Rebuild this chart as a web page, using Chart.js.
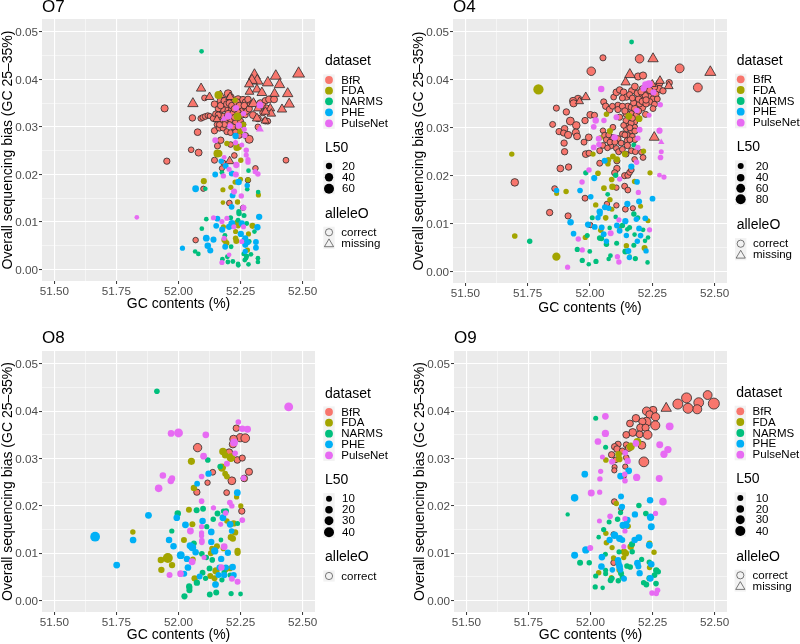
<!DOCTYPE html>
<html><head><meta charset="utf-8">
<style>html,body{margin:0;padding:0;background:#fff;overflow:hidden}canvas{position:absolute}</style>
<script src="https://cdn.jsdelivr.net/npm/chart.js@4"></script>
</head><body>
<script>
const datasetNames = ['BfR','FDA','NARMS','PHE','PulseNet'];
const alleleNames = ['correct','missing'];
const xTicks = [51.5,51.625,51.75,51.875,52,52.125,52.25,52.375,52.5];
const yTicks = [0,0.005,0.01,0.015,0.02,0.025,0.03,0.035,0.04,0.045,0.05];
const xAxisTitle = 'GC contents (%)';
const yAxisTitle = 'Overall sequencing bias (GC 25–35%)';

/* each point: [GC contents, sequencing bias, L50] */
const o7BfR = [[51.944,.0339,28],[52.056,.0319,22],[52.077,.0289,24],[52.051,.0252,15],[52.081,.0246,26],[51.953,.0228,20],[52.433,.0230,16],[52.069,.0062,14],[52.105,.0361,16],[52.09,.0318,16],[52.098,.0320,16],[52.108,.0322,16],[52.118,.0324,14],[52.126,.0323,12],[52.20,.0370,34],[52.21,.0362,30],[52.17,.0355,26],[52.18,.0347,26],[52.22,.0352,24],[52.24,.0358,30],[52.25,.0350,26],[52.26,.0357,26],[52.27,.0352,22],[52.28,.0358,22],[52.29,.0347,18],[52.23,.0345,22],[52.25,.0340,22],[52.26,.0335,26],[52.27,.0340,18],[52.21,.0340,26],[52.19,.0338,22],[52.175,.0338,26],[52.16,.0338,18],[52.145,.0348,22],[52.17,.0325,18],[52.18,.0322,22],[52.20,.0328,22],[52.22,.0330,18],[52.24,.0330,22],[52.255,.0325,18],[52.27,.0325,14],[52.16,.0315,22],[52.175,.0310,22],[52.19,.0312,22],[52.21,.0315,18],[52.23,.0310,18],[52.25,.0312,18],[52.155,.0305,16],[52.145,.0292,20],[52.165,.0298,22],[52.18,.0298,20],[52.195,.0290,18],[52.21,.0288,16],[52.23,.0290,16],[52.245,.0282,16],[52.27,.0282,18],[52.285,.0274,36],[52.17,.0272,22],[52.157,.0260,18],[52.21,.0263,15],[52.145,.0230,18],[52.225,.0240,15],[52.175,.0213,12],[52.18,.0225,12],[52.31,.0213,14],[52.30,.0325,26],[52.32,.0318,24],[52.32,.0300,16],[52.35,.0313,22],[52.36,.0312,16],[52.33,.0350,26],[52.35,.0355,22],[52.365,.0358,26],[52.385,.0358,26],[52.30,.0350,22],[52.205,.0140,15],[52.10,.0170,12],[52.28,.0188,13],[52.26,.0130,12],[52.14,.0318,18],[52.15,.0327,20],[52.16,.0325,20],[52.17,.0345,22],[52.185,.0355,24],[52.195,.0348,24],[52.205,.0350,24],[52.215,.0345,22],[52.225,.0338,22],[52.235,.0352,26],[52.245,.0345,22],[52.265,.0345,22],[52.275,.0333,18],[52.285,.0338,20],[52.24,.0320,20],[52.225,.0320,18],[52.205,.0305,18],[52.185,.0305,18],[52.22,.0300,16],[52.24,.0300,16],[52.26,.0305,16],[52.195,.0320,20],[52.165,.0305,18],[52.34,.0345,20],[52.355,.0340,18],[52.34,.0330,20]];
const o7BfRMissing = [[52.484,.0412,62],[52.306,.0408,62],[52.392,.0407,52],[52.317,.0397,56],[52.296,.0398,48],[52.36,.0393,52],[52.407,.0389,46],[52.091,.0381,36],[52.285,.0390,36],[52.286,.0374,30],[52.316,.0379,34],[52.336,.0372,40],[52.387,.0370,36],[52.44,.0370,46],[52.125,.0363,30],[52.169,.0367,30],[52.208,.0363,30],[52.058,.0349,46],[52.446,.0348,46],[52.417,.0337,36],[52.37,.0339,30],[52.374,.0328,30],[52.302,.0349,46],[52.32,.0339,30],[52.35,.0332,30],[52.316,.0318,34],[52.349,.0313,24],[52.155,.0316,24],[52.206,.0228,30]];
const o7FDA = [[52.161,.0367,36],[52.238,.0322,36],[52.228,.0356,13],[52.262,.0305,13],[52.249,.0291,18],[52.235,.0257,26],[52.242,.0258,22],[52.195,.0265,13],[52.157,.0244,36],[52.163,.0244,26],[52.251,.0230,13],[52.102,.0186,18],[52.179,.0168,11],[52.211,.0173,11],[52.228,.0184,12],[52.25,.0190,10],[52.28,.0189,10],[52.179,.0141,8],[52.238,.0142,13],[52.322,.0157,11],[52.298,.0092,18],[52.282,.0075,11],[52.181,.0090,11],[52.235,.0099,13],[52.24,.0092,13],[52.23,.0080,11],[52.185,.0062,18],[52.193,.0056,18],[52.233,.0060,18],[52.23,.0066,13],[52.278,.0041,11]];
const o7NARMS = [[52.093,.0459,8],[52.282,.0208,8],[52.175,.0204,9],[52.108,.0170,8],[52.277,.0169,8],[52.321,.0163,8],[52.112,.0106,8],[52.094,.0086,8],[52.244,.0118,13],[52.243,.0122,10],[52.264,.0114,10],[52.21,.0109,10],[52.24,.0104,10],[52.275,.0097,9],[52.306,.0080,8],[52.187,.0072,9],[52.212,.0048,9],[52.067,.0038,8],[52.08,.0033,8],[52.177,.0022,9],[52.197,.0027,9],[52.199,.0016,9],[52.219,.0017,9],[52.24,.0012,8],[52.241,.0009,8],[52.263,.0033,9],[52.267,.0020,9],[52.275,.0028,9],[52.282,.0011,8],[52.292,.0032,8],[52.32,.0024,8],[52.32,.0016,8],[52.272,.0024,8],[52.263,.0062,9],[52.285,.0059,9]];
const o7PHE = [[52.325,.0111,20],[52.318,.0089,20],[52.157,.0107,15],[52.152,.0092,16],[52.176,.0084,18],[52.204,.0090,20],[52.215,.0097,26],[52.255,.0097,20],[52.112,.0066,24],[52.141,.0063,18],[52.118,.0050,22],[52.128,.0040,18],[52.188,.0048,16],[52.251,.0075,20],[52.269,.0066,18],[52.269,.0052,18],[52.279,.0057,14],[52.312,.0058,16],[52.312,.0046,16],[52.269,.0038,12],[52.016,.0045,11],[52.069,.0170,24],[52.218,.0156,16],[52.214,.0132,16],[52.242,.0184,22],[52.277,.0177,13],[52.148,.0200,16],[52.215,.0202,18],[52.19,.0218,16],[52.172,.0228,13],[52.23,.0281,20]];
const o7PulseNet = [[51.832,.0110,8],[52.328,.0346,26],[52.232,.0340,18],[52.201,.0323,26],[52.262,.0328,12],[52.208,.0302,15],[52.243,.0303,20],[52.265,.0295,11],[52.267,.0282,12],[52.148,.0272,16],[52.23,.0267,11],[52.255,.0262,10],[52.273,.0251,13],[52.273,.0241,11],[52.28,.0231,12],[52.28,.0226,12],[52.184,.0236,9],[52.233,.0220,20],[52.204,.0211,11],[52.181,.0197,12],[52.231,.0200,18],[52.309,.0206,11],[52.32,.0201,13],[52.224,.0164,18],[52.253,.0155,13],[52.262,.0130,16],[52.141,.0109,11],[52.175,.0101,11],[52.195,.0108,11],[52.223,.0090,11],[52.262,.0090,11],[52.184,.0066,11],[52.255,.0059,11],[52.204,.0031,8],[52.175,.0015,11]];
const o7PulseNetMissing = [[52.328,.0295,24],[52.182,.0317,14]];

const o4BfR = [[52.052,.0446,22],[52.199,.0444,55],[52.005,.0418,55],[52.36,.0424,60],[52.433,.0384,60],[52.193,.0407,35],[52.213,.0409,35],[52.318,.0394,25],[51.952,.0360,40],[51.932,.0356,35],[51.934,.0351,35],[51.865,.0341,22],[51.905,.0333,25],[51.85,.0307,20],[51.921,.0314,45],[51.945,.0305,40],[51.943,.0290,35],[51.876,.0292,25],[51.898,.0298,28],[51.894,.0289,22],[51.912,.0285,35],[51.948,.0282,30],[51.896,.0268,25],[51.976,.0270,20],[51.995,.0280,30],[51.98,.0315,25],[52.001,.0327,30],[52.018,.0326,22],[51.898,.0250,25],[51.983,.0245,30],[51.996,.0247,20],[51.881,.0215,30],[51.914,.0218,25],[51.698,.0186,40],[51.858,.0173,18],[51.98,.0153,20],[51.838,.0123,25],[51.912,.0116,22],[52.001,.0097,14],[52.055,.0354,22],[52.063,.0345,25],[52.079,.0338,30],[52.095,.0364,18],[52.106,.0374,30],[52.119,.0379,25],[52.135,.0374,30],[52.168,.0377,30],[52.18,.0386,30],[52.146,.0364,25],[52.159,.0369,22],[52.112,.0347,22],[52.112,.0338,22],[52.152,.0344,35],[52.166,.0343,25],[52.18,.0340,30],[52.21,.0342,30],[52.186,.0357,30],[52.202,.0364,25],[52.219,.0371,25],[52.199,.0350,25],[52.166,.0329,25],[52.186,.0326,25],[52.223,.0328,22],[52.146,.0329,30],[52.119,.0322,22],[52.159,.0315,22],[52.179,.0312,22],[52.152,.0305,22],[52.179,.0301,22],[52.146,.0298,20],[52.166,.0294,20],[52.18,.0293,20],[52.092,.0301,18],[52.052,.0294,14],[52.059,.0284,22],[52.066,.0275,22],[52.092,.0279,25],[52.112,.0277,25],[52.13,.0287,18],[52.15,.0284,22],[52.15,.0273,25],[52.15,.0263,25],[52.083,.0262,20],[52.052,.0263,18],[52.039,.0252,20],[52.106,.0257,18],[52.115,.0250,20],[52.166,.0252,18],[52.182,.0250,18],[52.213,.0238,18],[52.179,.0234,16],[52.206,.0249,14],[52.108,.0231,22],[52.039,.0226,20],[52.108,.0215,25],[52.099,.0206,22],[52.139,.0200,22],[52.152,.0201,22],[52.159,.0207,18],[52.166,.0212,16],[52.139,.0178,20],[52.152,.0170,18],[52.106,.0175,14],[52.068,.0141,14],[52.106,.0138,14],[52.142,.0130,18],[52.172,.0132,12],[52.279,.0393,30],[52.277,.0381,35],[52.293,.0377,25],[52.259,.0385,25],[52.249,.0372,30],[52.237,.0364,30],[52.253,.0360,25],[52.239,.0354,28],[52.259,.0349,20],[52.253,.0340,18],[52.222,.0367,25],[52.21,.0381,25],[52.232,.0381,25],[52.13,.0345,22],[52.14,.0335,25],[52.145,.0315,22],[52.165,.0310,22],[52.17,.0320,22],[52.16,.0300,20],[52.135,.0305,18],[52.14,.0285,20],[52.17,.0282,18],[52.18,.0275,18],[52.16,.0275,18],[52.13,.0255,18],[52.145,.0245,18],[52.195,.0360,25],[52.21,.0355,25],[52.225,.0350,25],[52.19,.0372,25],[52.205,.0375,25],[52.225,.0358,25],[52.24,.0378,25],[52.265,.0370,22],[52.27,.0360,20],[52.175,.0352,22],[52.195,.0335,25],[52.17,.0362,20],[52.13,.0362,20],[52.09,.0345,18],[52.08,.0270,18],[52.075,.0285,18],[52.125,.0268,18],[52.1,.0270,20],[52.07,.0258,16]];
const o4BfRMissing = [[52.483,.0416,70],[52.253,.0444,60],[52.16,.0411,60],[52.143,.0395,45],[52.281,.0398,40],[52.25,.0391,30],[52.316,.0387,40],[51.983,.0364,40],[51.958,.0355,30],[52.258,.0280,55]];
const o4FDA = [[51.793,.0380,85],[51.686,.0245,14],[51.698,.0074,16],[51.865,.0031,50],[52.066,.0328,14],[52.156,.0324,30],[52.197,.0319,30],[52.08,.0293,22],[52.041,.0279,12],[52.14,.0245,22],[52.012,.0245,14],[52.215,.0251,12],[52.092,.0240,18],[52.074,.0233,18],[52.108,.0234,22],[52.072,.0225,16],[52.032,.0205,16],[52.241,.0206,12],[52.087,.0192,16],[52.09,.0177,25],[52.056,.0174,16],[52.179,.0188,14],[51.904,.0167,14],[51.866,.0163,10],[52.08,.0150,14],[52.023,.0139,14],[52.203,.0136,10],[52.088,.0130,10],[52.063,.0112,16],[52.233,.0106,10],[52.043,.0086,14],[51.981,.0071,12],[52.146,.0054,14],[52.219,.0049,20],[52.119,.0093,10]];
const o4NARMS = [[52.167,.0479,8],[51.758,.0063,14],[51.983,.0206,12],[52.103,.0201,14],[52.176,.0264,10],[52.071,.0161,8],[52.009,.0112,10],[52.103,.0114,6],[52.176,.0120,14],[52.192,.0112,10],[52.13,.0096,14],[52.159,.0092,10],[52.213,.0087,8],[52.179,.0077,6],[52.221,.0064,6],[52.233,.0071,6],[52.079,.0091,6],[51.989,.0075,10],[52.039,.0070,16],[52.046,.0069,14],[52.066,.0057,14],[52.107,.0059,10],[51.949,.0046,12],[51.999,.0042,8],[51.969,.0023,12],[52.024,.0021,12],[51.995,.0015,6],[52.075,.0026,6],[52.082,.0033,8],[52.142,.0042,20],[52.159,.0031,8],[52.182,.0027,12],[52.176,.0055,10],[52.231,.0019,6],[52.15,.0088,8]];
const o4PHE = [[52.059,.0231,20],[52.166,.0219,22],[52.017,.0195,22],[52.189,.0187,16],[51.866,.0169,14],[51.96,.0169,16],[52.003,.0156,16],[52.251,.0152,18],[52.15,.0141,22],[52.197,.0146,20],[52.039,.0125,25],[52.06,.0134,20],[52.075,.0132,14],[52.032,.0112,14],[52.04,.0120,14],[52.142,.0105,22],[52.186,.0109,14],[52.222,.0111,18],[51.922,.0103,26],[51.992,.0098,22],[52.019,.0093,18],[52.047,.0092,18],[52.108,.0096,18],[52.119,.0085,18],[52.197,.0090,18],[52.203,.0075,16],[52.055,.0078,18],[51.934,.0079,16],[52.146,.0075,14],[52.066,.0063,14],[52.19,.0063,14],[52.225,.0043,14],[52.154,.0043,20],[52.158,.0029,14]];
const o4PulseNet = [[52.045,.0381,25],[52.237,.0391,40],[52.223,.0390,30],[52.215,.0382,22],[52.255,.0374,22],[52.282,.0348,14],[52.188,.0336,14],[52.237,.0326,10],[52.106,.0322,18],[52.023,.0315,25],[52.056,.0315,14],[52.015,.0302,18],[52.199,.0296,20],[52.279,.0294,22],[52.099,.0280,25],[52.035,.0277,20],[52.192,.0278,14],[52.036,.0265,16],[52.015,.0259,18],[52.192,.0259,14],[52.286,.0250,10],[52.283,.0238,16],[52.187,.0228,14],[51.996,.0212,14],[52.279,.0201,8],[52.297,.0197,12],[52.119,.0193,12],[51.968,.0187,14],[52.194,.0165,12],[52.239,.0087,12],[52.116,.0108,12],[52.083,.0080,20],[51.953,.0068,14],[51.969,.0045,12],[52.11,.0031,12],[52.116,.0020,14],[51.91,.0009,12]];
const o4PulseNetMissing = [[52.286,.0270,14]];

const o8BfR = [[52.233,.0364,13],[52.249,.0344,25],[52.269,.0343,28],[52.222,.0341,22],[52.219,.0330,18],[52.077,.0323,26],[52.204,.0313,17],[52.237,.0297,14],[52.257,.0301,11],[52.284,.0272,17],[52.265,.0258,14],[52.215,.0253,22],[52.138,.0271,9],[52.117,.0249,7],[52.074,.0229,12],[52.194,.0228,9],[52.255,.0189,12]];
const o8FDA = [[52.179,.0315,19],[52.188,.0307,12],[52.211,.0302,28],[52.052,.0294,17],[52.175,.0281,25],[52.188,.0268,9],[52.195,.0262,9],[52.062,.0238,12],[52.234,.0219,6],[52.251,.0200,6],[52.042,.0192,10],[52.056,.0161,10],[52.195,.0168,7],[52.222,.0163,12],[52.228,.0144,12],[51.816,.0145,7],[52.211,.0134,12],[52.219,.0131,12],[52.022,.0128,10],[52.155,.0115,10],[52.135,.0110,8],[52.13,.0100,9],[52.181,.0110,8],[52.238,.0105,11],[52.238,.0101,11],[51.957,.0090,40],[51.929,.0086,13],[51.974,.0075,12],[51.931,.0065,12],[52.058,.0087,8],[52.151,.0063,18],[52.065,.0047,12],[52.128,.0052,10],[52.145,.0047,10],[52.15,.0035,8],[52.208,.0068,8],[52.192,.0066,8]];
const o8NARMS = [[51.913,.0442,8],[52.118,.0297,8],[52.168,.0283,8],[51.997,.0184,13],[52.073,.0191,10],[52.099,.0194,9],[52.157,.0184,9],[52.181,.0189,6],[52.192,.0189,8],[52.14,.0172,7],[52.114,.0156,6],[51.973,.0147,6],[52.238,.0163,5],[52.062,.0121,9],[52.171,.0128,4],[52.094,.0099,8],[52.112,.0091,7],[52.136,.0086,8],[52.125,.0068,9],[52.097,.0059,9],[52.109,.0047,6],[52.208,.0054,6],[52.184,.0060,7],[52.175,.0044,6],[52.074,.0038,12],[52.043,.0030,11],[52.044,.0027,10],[52.044,.0022,10],[52.024,.0009,11],[52.126,.0013,9],[52.152,.0017,10],[52.212,.0015,6],[52.25,.0014,4]];
const o8PHE = [[51.664,.0135,38],[51.751,.0075,15],[51.817,.0128,14],[51.879,.0180,15],[51.993,.0175,14],[52.028,.0160,15],[52.097,.0168,13],[52.179,.0175,15],[52.208,.0161,14],[52.132,.0145,14],[52.214,.0147,8],[51.962,.0128,13],[51.98,.0115,13],[52.047,.0116,16],[52.056,.0112,20],[52.132,.0124,12],[52.069,.0102,13],[52.146,.0105,18],[52.199,.0101,12],[52.009,.0096,22],[52.034,.0088,12],[52.172,.0088,12],[52.038,.0070,14],[52.023,.0057,10],[52.085,.0051,10],[52.161,.0054,10],[52.184,.0054,12],[52.165,.0070,10],[52.191,.0070,10],[52.218,.0071,14],[52.222,.0054,12],[52.149,.0034,14],[52.075,.0247,9],[52.121,.0268,12],[52.237,.0228,15]];
const o8PulseNet = [[52.444,.0409,30],[52.241,.0377,8],[52.257,.0363,13],[52.278,.0362,16],[52.0,.0354,30],[51.97,.0353,14],[52.11,.0350,14],[52.224,.0334,22],[52.101,.0305,15],[52.228,.0311,8],[52.195,.0289,10],[52.093,.0262,8],[51.937,.0264,13],[51.974,.0258,12],[51.969,.0253,14],[51.92,.0237,20],[52.262,.0259,8],[52.093,.0210,8],[52.207,.0207,9],[52.215,.0200,7],[52.141,.0196,6],[52.19,.0185,8],[52.257,.0170,9],[52.093,.0156,6],[52.17,.0161,5],[52.048,.0147,15],[52.093,.0143,6],[52.093,.0137,6],[52.094,.0127,8],[52.094,.0123,8],[52.184,.0114,15],[52.055,.0082,15],[52.103,.0091,5],[51.964,.0054,10],[52.008,.0057,14],[52.173,.0070,12],[52.215,.0046,10],[52.238,.0040,10]];

const o9BfR = [[52.497,.0416,50],[52.472,.0434,30],[52.436,.0418,38],[52.43,.0404,32],[52.387,.0428,40],[52.352,.0415,40],[52.393,.0406,40],[52.252,.0402,22],[52.226,.0400,26],[52.238,.0393,20],[52.262,.0388,25],[52.183,.0385,20],[52.159,.0374,15],[52.225,.0377,35],[52.209,.0378,18],[52.201,.0365,20],[52.261,.0370,32],[52.222,.0365,18],[52.17,.0355,22],[52.198,.0351,15],[52.23,.0350,30],[52.144,.0350,15],[52.207,.0328,22],[52.111,.0330,12],[52.097,.0325,12],[52.107,.0320,14],[52.144,.0329,10],[52.154,.0322,14],[52.128,.0316,10],[52.085,.0308,12],[52.215,.0293,38],[52.101,.0297,8],[52.144,.0302,8],[52.097,.0282,6],[52.096,.0275,6],[52.14,.0283,6],[52.134,.0263,6],[52.096,.0209,9],[52.123,.0194,4],[52.093,.0080,8],[52.093,.0140,6]];
const o9BfRMissing = [[52.305,.0406,30]];
const o9FDA = [[52.162,.0325,25],[52.189,.0335,22],[52.113,.0309,14],[52.116,.0299,14],[52.062,.0297,8],[52.104,.0205,7],[52.062,.0142,7],[52.064,.0122,7],[52.087,.0112,6],[52.13,.0157,6],[52.152,.0157,7],[52.162,.0114,13],[52.168,.0119,8],[52.135,.0103,14],[52.142,.0100,14],[52.134,.0091,6],[52.093,.0090,7],[52.256,.0102,7],[52.238,.0121,8],[52.238,.0070,7],[52.117,.0065,12],[52.033,.0059,7],[52.084,.0049,5]];
const o9NARMS = [[52.021,.0385,5],[52.061,.0324,5],[51.908,.0182,2],[52.195,.0201,7],[52.223,.0184,8],[52.109,.0172,7],[52.075,.0166,5],[52.121,.0186,6],[52.053,.0150,6],[52.033,.0134,3],[52.168,.0103,7],[52.115,.0103,6],[52.167,.0119,10],[52.06,.0098,5],[52.206,.0087,6],[51.958,.0080,10],[51.995,.0080,7],[52.147,.0073,8],[52.16,.0071,8],[52.237,.0081,7],[52.061,.0064,5],[52.061,.0057,5],[52.021,.0052,6],[52.081,.0043,9],[52.087,.0047,6],[52.123,.0058,10],[52.112,.0042,7],[52.128,.0050,6],[52.265,.0064,12],[52.273,.0061,7],[52.258,.0054,9],[52.237,.0047,10],[52.214,.0038,7],[52.225,.0034,9],[52.264,.0036,8],[52.019,.0029,6],[52.049,.0027,3]];
const o9PHE = [[51.977,.0267,14],[52.154,.0274,14],[52.121,.0263,14],[51.936,.0217,20],[52.123,.0220,10],[52.24,.0212,13],[52.127,.0198,11],[52.179,.0182,12],[52.242,.0176,18],[52.148,.0170,15],[52.131,.0159,16],[52.144,.0159,15],[52.245,.0156,16],[52.195,.0133,15],[52.178,.0128,13],[52.097,.0138,18],[52.077,.0128,12],[52.117,.0131,16],[52.128,.0128,10],[52.237,.0117,15],[51.981,.0107,18],[51.936,.0096,16],[52.046,.0092,14],[52.189,.0079,14],[52.193,.0072,10],[52.245,.0077,13],[52.044,.0072,14],[52.088,.0065,8],[52.111,.0085,13],[52.117,.0072,15],[52.12,.0065,10],[52.198,.0058,12],[52.241,.0047,14],[52.135,.0046,10],[52.113,.0079,12]];
const o9PulseNet = [[52.06,.0389,14],[52.06,.0353,18],[52.03,.0336,14],[52.319,.0368,22],[52.183,.0332,14],[52.279,.0329,16],[52.312,.0319,18],[52.296,.0309,18],[52.048,.0303,5],[52.14,.0312,8],[52.087,.0293,10],[52.15,.0295,12],[52.041,.0273,6],[52.138,.0267,7],[52.139,.0253,8],[52.186,.0260,18],[52.277,.0258,16],[52.038,.0257,7],[52.003,.0227,16],[52.037,.0229,6],[52.292,.0209,20],[52.262,.0184,6],[52.079,.0178,8],[52.139,.0173,6],[52.036,.0168,5],[52.139,.0147,6],[52.134,.0114,5],[51.999,.0111,10],[52.248,.0016,8],[52.265,.0015,7],[52.27,.0022,8]];

const o7L50 = [20,40,60];
const o4L50 = [20,40,60,80];
const o8L50 = [10,20,30,40];
const o9L50 = [10,20,30,40];

/* ---------- styling and layout ---------- */
const colors = ['#F8766D','#A3A500','#00BF7D','#00B0F6','#E76BF3'];
const font = 'Liberation Sans, Arial, sans-serif';
const panels = [
 {id:'O7',left:0,top:0,w:400,right:315,ptop:19,bottom:281,tpad:9,
  r:[2.5,.375],L:o7L50,alleles:2,
  series:[[o7BfR,0,0],[o7BfRMissing,0,1],[o7FDA,1,0],[o7NARMS,2,0],[o7PHE,3,0],[o7PulseNet,4,0],[o7PulseNetMissing,4,1]],
  lg:{titleY:7,x:325,ds:61.5,keys:[80,90.7,101.3,112.3,123.3],lTitle:148,lKeys:[166,177.3,188.7],lLab:342,aTitle:214.5,aKeys:[232.3,243.3]}},
 {id:'O4',left:411,top:0,w:389,right:316,ptop:19,bottom:283,tpad:5,
  r:[3.67,.267],L:o4L50,alleles:2,
  series:[[o4BfR,0,0],[o4BfRMissing,0,1],[o4FDA,1,0],[o4NARMS,2,0],[o4PHE,3,0],[o4PulseNet,4,0],[o4PulseNetMissing,4,1]],
  lg:{titleY:7,x:325.7,ds:61.5,keys:[79.3,90,101,111.7,122.7],lTitle:147,lKeys:[166,177.7,188.3,199.3],lLab:344.7,aTitle:225.5,aKeys:[243.7,254.7]}},
 {id:'O8',left:0,top:322,w:400,right:315,ptop:29,bottom:290,tpad:0,
  r:[3.67,.533],L:o8L50,alleles:1,
  series:[[o8BfR,0,0],[o8FDA,1,0],[o8NARMS,2,0],[o8PHE,3,0],[o8PulseNet,4,0]],
  lg:{titleY:16,x:325,ds:72,keys:[90,100.7,111.7,122.3,133.3],lTitle:158.5,lKeys:[176.7,187.7,198.7,210.3],lLab:342,aTitle:235.5,aKeys:[254]}},
 {id:'O9',left:412,top:322,w:388,right:315,ptop:29,bottom:290,tpad:0,
  r:[3.67,.533],L:o9L50,alleles:2,
  series:[[o9BfR,0,0],[o9BfRMissing,0,1],[o9FDA,1,0],[o9NARMS,2,0],[o9PHE,3,0],[o9PulseNet,4,0]],
  lg:{titleY:16,x:324.3,ds:71.5,keys:[89.3,100,111,121.7,132.7],lTitle:157.5,lKeys:[176,187,197.7,209],lLab:343.7,aTitle:235.5,aKeys:[253.3,264]}}
];

const radiusOf = (p,L)=>Math.sqrt(p.r[0]+p.r[1]*L);
const isMajorX = v=>Math.abs((v-51.5)/0.25-Math.round((v-51.5)/0.25))<1e-6;
const isMajorY = v=>Math.abs(v/0.01-Math.round(v/0.01))<1e-6;

const decorate = p=>({
  id:'decorate'+p.id,
  beforeDraw(ch){
    const a=ch.chartArea,c=ch.ctx;
    c.save();c.fillStyle='#EBEBEB';c.fillRect(a.left,a.top,a.right-a.left,a.bottom-a.top);c.restore();
  },
  afterDraw(ch){
    const c=ch.ctx,g=p.lg,kx=g.x+4;
    const lx=g.x+16.3;
    c.save();
    c.textBaseline='middle';c.textAlign='left';c.fillStyle='#000';
    c.font='17px '+font;c.fillText(p.id,42,g.titleY+.5);
    c.font='14px '+font;
    c.fillText('dataset',g.x,g.ds);c.fillText('L50',g.x,g.lTitle);c.fillText('alleleO',g.x,g.aTitle);
    const box=(y)=>{c.fillStyle='#F2F2F2';c.fillRect(kx-5.7,y-5.6,11.4,11.2);};
    c.font='11.5px '+font;
    datasetNames.forEach((n,i)=>{
      const y=g.keys[i];box(y);
      c.fillStyle=colors[i];c.beginPath();c.arc(kx,y,3.9,0,Math.PI*2);c.fill();
      c.fillStyle='#000';c.fillText(n,lx,y+.5);
    });
    p.L.forEach((L,i)=>{
      const y=g.lKeys[i];box(y);
      c.fillStyle='#000';c.beginPath();c.arc(kx,y,radiusOf(p,L),0,Math.PI*2);c.fill();
      c.fillText(String(L),g.lLab,y+.5);
    });
    for(let i=0;i<p.alleles;i++){
      const y=g.aKeys[i];box(y);
      c.strokeStyle='#444';c.lineWidth=.7;c.beginPath();
      if(i===0){c.arc(kx,y,3.6,0,Math.PI*2);}
      else{c.moveTo(kx-4.6,y+3.4);c.lineTo(kx+4.6,y+3.4);c.lineTo(kx,y-4.4);c.closePath();}
      c.stroke();
      c.fillStyle='#000';c.fillText(alleleNames[i],lx,y+.5);
    }
    c.restore();
  }
});

panels.forEach(p=>{
  const cv=document.createElement('canvas');
  cv.width=p.w;cv.height=322;
  cv.style.cssText=`left:${p.left}px;top:${p.top}px;width:${p.w}px;height:322px`;
  document.body.appendChild(cv);
  const n=p.series.length;
  const datasets=p.series.map(([pts,ds,allele],i)=>({
    label:datasetNames[ds]+' '+alleleNames[allele],
    order:n-i,
    data:pts.map(q=>({x:q[0],y:q[1],l:q[2]})),
    pointStyle:allele?'triangle':'circle',
    pointRadius:c=>radiusOf(p,c.raw.l)*(allele?1.35:1),
    backgroundColor:colors[ds],
    borderColor:ds===0?'#2b2b2b':colors[ds],
    borderWidth:ds===0?.8:0
  }));
  new Chart(cv,{
    type:'scatter',
    data:{datasets},
    options:{
      responsive:false,animation:false,events:[],clip:false,
      layout:{padding:{left:0,top:p.ptop,right:p.w-p.right,bottom:0}},
      plugins:{legend:{display:false},tooltip:{enabled:false},title:{display:false}},
      scales:{
        x:{type:'linear',min:51.45,max:52.55,
          afterBuildTicks:s=>{s.ticks=xTicks.map(v=>({value:v}));},
          afterFit:s=>{s.height=322-p.bottom;},
          border:{display:false},
          grid:{color:'#fff',lineWidth:c=>isMajorX(c.tick.value)?1.1:.5,
            tickColor:c=>isMajorX(c.tick.value)?'#333':'rgba(0,0,0,0)',tickLength:3,tickWidth:1},
          ticks:{autoSkip:false,maxRotation:0,minRotation:0,padding:1,color:'#4D4D4D',
            font:{family:font,size:11.7},
            callback:v=>isMajorX(v)?v.toFixed(2):''},
          title:{display:true,text:xAxisTitle,color:'#000',font:{family:font,size:14},padding:{top:0,bottom:p.tpad}}},
        y:{type:'linear',min:-0.0024,max:0.0527,
          afterBuildTicks:s=>{s.ticks=yTicks.map(v=>({value:v}));},
          afterFit:s=>{s.width=42;},
          border:{display:false},
          grid:{color:'#fff',lineWidth:c=>isMajorY(c.tick.value)?1.1:.5,
            tickColor:c=>isMajorY(c.tick.value)?'#333':'rgba(0,0,0,0)',tickLength:3,tickWidth:1},
          ticks:{autoSkip:false,padding:1,labelOffset:1,color:'#4D4D4D',
            font:{family:font,size:11.7},
            callback:v=>isMajorY(v)?v.toFixed(2):''},
          title:{display:true,text:yAxisTitle,color:'#000',font:{family:font,size:14},padding:{top:0,bottom:0}}}
      }
    },
    plugins:[decorate(p)]
  });
});
</script>
</body></html>
